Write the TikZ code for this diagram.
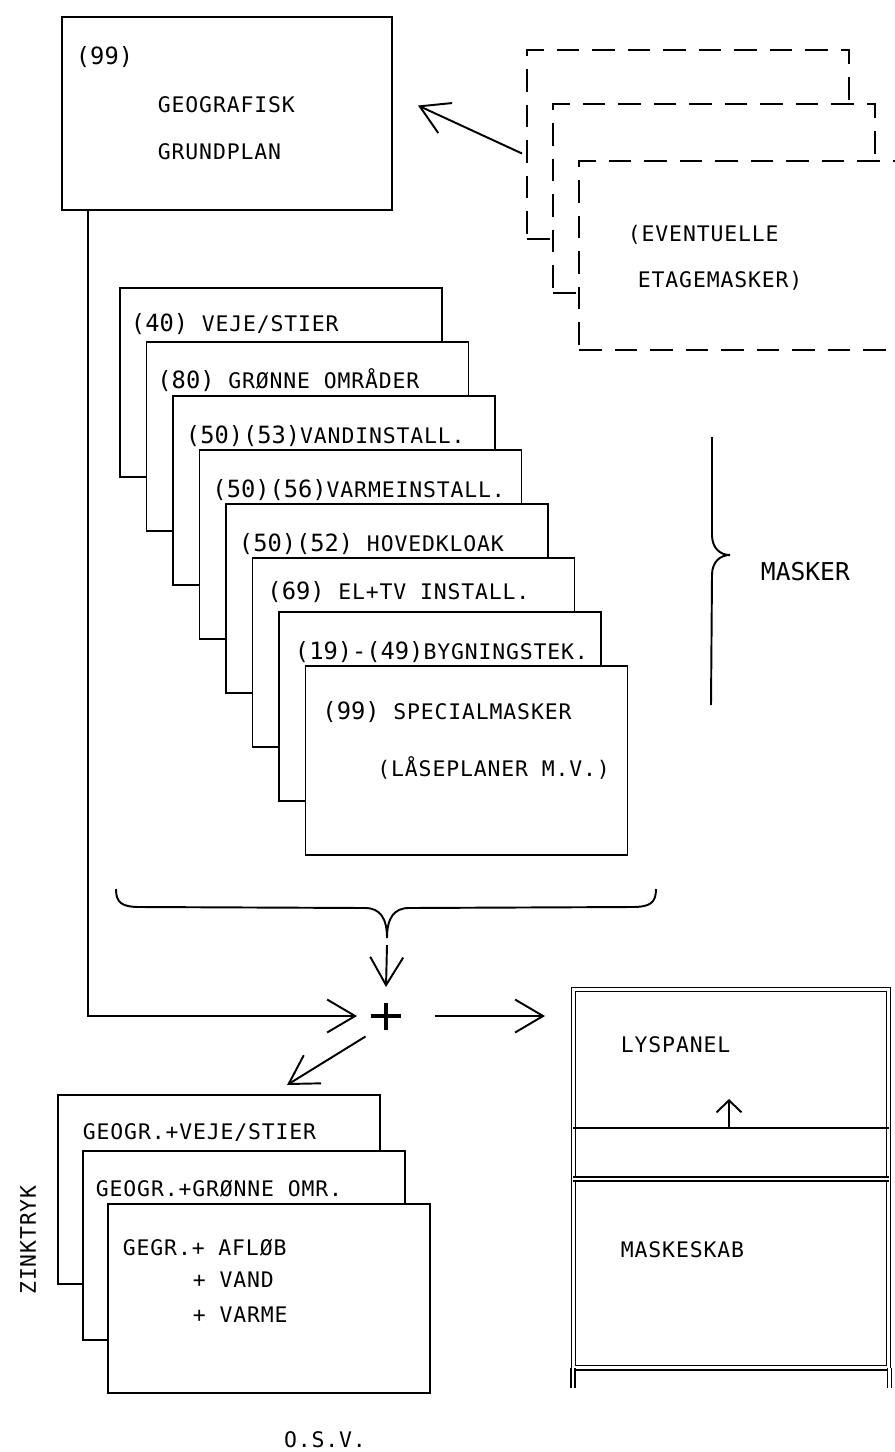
\documentclass[tikz,border=0pt]{standalone}
\usepackage{fontspec}
\newfontfamily\typ[LetterSpace=4]{DejaVu Sans Mono}
\newfontfamily\typnr{DejaVu Sans Mono}
\usetikzlibrary{arrows.meta,positioning}

\newcommand{\nr}[1]{{\typnr\fontsize{13.5}{15}\selectfont #1}}

\begin{document}
\begin{tikzpicture}[
x=0.2mm, y=-0.2mm,
line width=1.1pt,
font=\typ\fontsize{12.2}{14}\selectfont,
sheet/.style={draw, fill=white, inner sep=0pt, outer sep=0pt, minimum width=64.4mm, minimum height=37.8mm, anchor=north west},
etage/.style={sheet, dash pattern=on 4.5mm off 2.6mm},
txt/.style={anchor=west, inner sep=0pt},
arr/.style={-{Straight Barb[length=5.6mm, width=6.6mm]}},
dbl/.style={double, double distance=0.55mm, line width=0.8pt}
]
\useasboundingbox (0,0) rectangle (895,1452);
\clip (0,0) rectangle (895,1452);

% grundplan
\node[sheet, minimum width=66mm, minimum height=38.6mm] (grund) at (62,17) {};
\node[txt] (g99) at ([shift={(13,40)}]grund.north west) {\nr{(99)}};
\node[txt] (geo) at ([shift={(95,88)}]grund.north west) {GEOGRAFISK};
\node[txt] (plan) at ([shift={(95,135)}]grund.north west) {GRUNDPLAN};

% etagemasker
\node[etage] (e1) at (527,50) {};
\node[etage, below right=10.8mm and 5.2mm of e1.north west] (e2) {};
\node[etage, below right=11.4mm and 5.2mm of e2.north west] (e3) {};
\node[txt] (ev) at ([shift={(48,74)}]e3.north west) {(EVENTUELLE};
\node[txt] (et) at ([shift={(58,120)}]e3.north west) {ETAGEMASKER)};

\draw[arr] ([shift={(-5,9)}]e1.west) -- ([shift={(26,-8)}]grund.east);

% masker
\node[sheet] (m40) at (120,288) {};
\node[txt] (t40) at ([shift={(10,36)}]m40.north west) {\nr{(40)} VEJE/STIER};
\node[sheet, below right=10.8mm and 5.3mm of m40.north west] (m80) {};
\node[txt] (t80) at ([shift={(10,38)}]m80.north west) {\nr{(80)} GRØNNE OMRÅDER};
\node[sheet, below right=10.8mm and 5.3mm of m80.north west] (m53) {};
\node[txt] (t53) at ([shift={(12,40)}]m53.north west) {\nr{(50)(53)}VANDINSTALL.};
\node[sheet, below right=10.8mm and 5.3mm of m53.north west] (m56) {};
\node[txt] (t56) at ([shift={(12,40)}]m56.north west) {\nr{(50)(56)}VARMEINSTALL.};
\node[sheet, below right=10.8mm and 5.3mm of m56.north west] (m52) {};
\node[txt] (t52) at ([shift={(12,40)}]m52.north west) {\nr{(50)(52)} HOVEDKLOAK};
\node[sheet, below right=10.8mm and 5.3mm of m52.north west] (m69) {};
\node[txt] (t69) at ([shift={(14,34)}]m69.north west) {\nr{(69)} EL+TV INSTALL.};
\node[sheet, below right=10.8mm and 5.3mm of m69.north west] (m19) {};
\node[txt] (t19) at ([shift={(15,40)}]m19.north west) {\nr{(19)-(49)}BYGNINGSTEK.};
\node[sheet, below right=10.8mm and 5.3mm of m19.north west] (m99) {};
\node[txt] (t99) at ([shift={(16,46)}]m99.north west) {\nr{(99)} SPECIALMASKER};
\node[txt] (laas) at ([shift={(71,102)}]m99.north west) {(LÅSEPLANER M.V.)};

% klammer
\draw (712,437) -- (712,535) .. controls (712,548) and (720,555) .. (730,555)
  .. controls (720,555) and (712,562) .. (712,575) -- (711,705);
\node[txt, font=\typnr\fontsize{14}{16}\selectfont] (masker) at (760,572) {MASKER};

\draw (116,889) .. controls (116,903) and (122,907) .. (140,907) -- (365,908)
  .. controls (380,908) and (387,918) .. (387,938)
  .. controls (387,918) and (394,908) .. (409,908) -- (632,907)
  .. controls (650,907) and (656,903) .. (656,889);
\coordinate (bund) at (387,945);

% plus
\node[circle, minimum size=11.2mm, inner sep=0pt] (plus) at (386,1016) {};
\draw[line width=2pt] ([yshift=2.7mm]plus.center) -- ([yshift=-2.7mm]plus.center)
  ([xshift=-3mm]plus.center) -- ([xshift=3mm]plus.center);

% skab
\node[draw, dbl, inner sep=0pt, anchor=north west, minimum width=63mm, minimum height=75.6mm] (skab) at (573,989) {};
\draw[dbl] (skab.south west) -- ++(0,20);
\draw[dbl] (skab.south east) -- ++(0,20);
\draw[dbl] ([yshift=-38mm]skab.north west) -- ([yshift=-38mm]skab.north east);
\draw ([yshift=-27.8mm]skab.north west) -- ([yshift=-27.8mm]skab.north east);
\coordinate (rail) at ([shift={(156,139)}]skab.north west);
\draw[-{Straight Barb[length=2.4mm, width=5mm]}] (rail) -- ++(0,-29);
\node[txt] (lys) at ([shift={(47,56)}]skab.north west) {LYSPANEL};
\node[txt] (mskab) at ([shift={(47,261)}]skab.north west) {MASKESKAB};

% zinktryk
\node[sheet] (zA) at (58,1095) {};
\node[txt] (tA) at ([shift={(24,38)}]zA.north west) {GEOGR.+VEJE/STIER};
\node[sheet, below right=11.2mm and 5mm of zA.north west] (zB) {};
\node[txt] (tB) at ([shift={(12,38)}]zB.north west) {GEOGR.+GRØNNE OMR.};
\node[sheet, below right=10.6mm and 5mm of zB.north west] (zC) {};
\node[txt] (tC1) at ([shift={(14,44)}]zC.north west) {GEGR.+ AFLØB};
\node[txt] (tC2) at ([shift={(84,76)}]zC.north west) {+ VAND};
\node[txt] (tC3) at ([shift={(84,111)}]zC.north west) {+ VARME};
\node[rotate=90] (zink) at (28,1240) {ZINKTRYK};
\node (osv) at (325,1440) {O.S.V.};

% forbindelser
\draw[arr] ([xshift=5.2mm]grund.south west) |- (plus.west);
\draw[arr] (bund) -- (plus.north);
\draw[arr] ([xshift=4mm]plus.east) -- ([xshift=-5.6mm]plus.east -| skab.west);
\draw[arr] (plus.south west) -- ([shift={(-93,-10)}]zA.north east);
\end{tikzpicture}
\end{document}
